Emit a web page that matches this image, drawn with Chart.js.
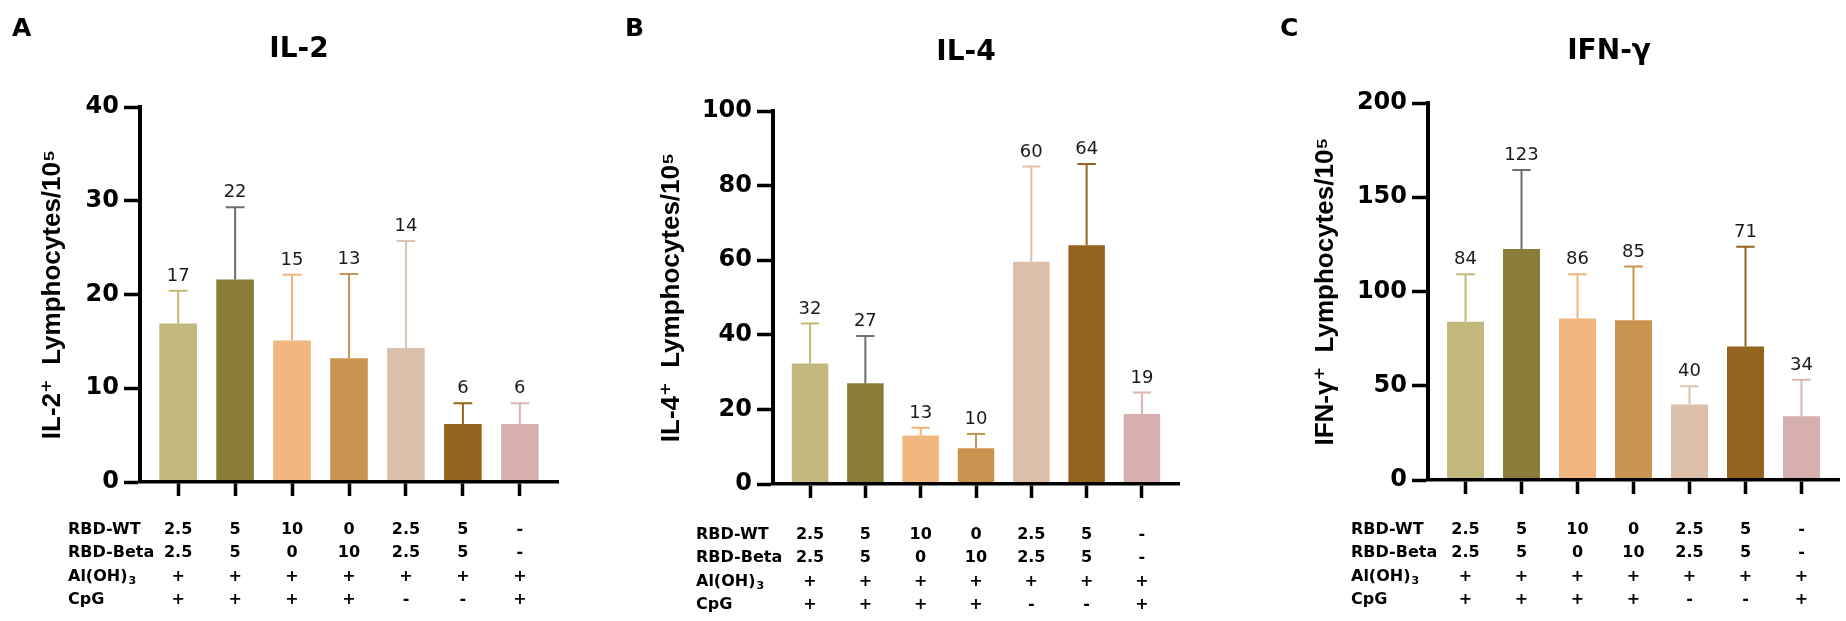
<!DOCTYPE html>
<html lang="en">
<head>
<meta charset="UTF-8">
<style>
    * { margin: 0; padding: 0; box-sizing: border-box; }
    body { width: 1846px; height: 621px; background: #fff; overflow: hidden; position: relative; }
    .panel { position: absolute; top: 0; height: 621px; }
</style>
</head>
<body>
<div class="panel" style="left:0px"><canvas id="chartA" width="600" height="621"></canvas></div>
<div class="panel" style="left:600px"><canvas id="chartB" width="620" height="621"></canvas></div>
<div class="panel" style="left:1240px"><canvas id="chartC" width="606" height="621"></canvas></div>

<script src="https://cdn.jsdelivr.net/npm/chart.js@4/dist/chart.umd.min.js"></script>
<script>
// table under each panel (one column per group)
const rbdWT   = ['2.5', '5', '10', '0', '2.5', '5', '-'];
const rbdBeta = ['2.5', '5', '0', '10', '2.5', '5', '-'];
const alum    = ['+', '+', '+', '+', '+', '+', '+'];
const cpg     = ['+', '+', '+', '+', '-', '-', '+'];
const rowNames = ['RBD-WT', 'RBD-Beta', 'Al(OH)3', 'CpG'];

// mean and SD per group
const il2Mean  = [16.9, 21.6, 15.1, 13.2, 14.3, 6.2, 6.2];
const il2Sd    = [3.5, 7.7, 7.0, 9.0, 11.4, 2.2, 2.2];
const il4Mean  = [32.3, 27.0, 13.0, 9.6, 59.6, 64.0, 18.8];
const il4Sd    = [10.7, 12.7, 2.1, 3.8, 25.5, 21.8, 5.7];
const ifngMean = [84.0, 122.6, 85.7, 84.8, 40.0, 70.8, 33.8];
const ifngSd   = [25.2, 41.9, 23.5, 28.4, 9.8, 52.9, 19.4];

// y tick labels
const il2Ticks  = [0, 10, 20, 30, 40];
const il4Ticks  = [0, 20, 40, 60, 80, 100];
const ifngTicks = [0, 50, 100, 150, 200];

const barColors = ['#c2b77d', '#8b7b38', '#f2b77e', '#c8944f', '#dbbfa9', '#93631f', '#d8afaf'];
const errColors = ['#c6b978', '#6e6e6e', '#f2b47a', '#c8944f', '#dfc3ad', '#93631f', '#dcb2b2'];

Chart.defaults.font.family = '"DejaVu Sans", sans-serif';
Chart.defaults.color = '#000';

// error bars, value labels, panel letter, title and the row names of the table
const panelDecor = {
    id: 'panelDecor',
    afterDatasetsDraw(chart, args, opts) {
        const ctx = chart.ctx;
        const y = chart.scales.y;
        const meta = chart.getDatasetMeta(0);
        ctx.save();
        meta.data.forEach((bar, i) => {
            const top = y.getPixelForValue(opts.mean[i] + opts.sd[i]);
            const half = bar.width / 4;
            ctx.strokeStyle = errColors[i];
            ctx.lineWidth = 2;
            ctx.beginPath();
            ctx.moveTo(bar.x, bar.y);
            ctx.lineTo(bar.x, top);
            ctx.moveTo(bar.x - half, top);
            ctx.lineTo(bar.x + half, top);
            ctx.stroke();
            ctx.fillStyle = '#1a1a1a';
            ctx.font = '18px "DejaVu Sans"';
            ctx.textAlign = 'center';
            ctx.textBaseline = 'alphabetic';
            ctx.fillText(String(Math.round(opts.mean[i])), bar.x, top - 10);
        });
        ctx.restore();
    },
    afterDraw(chart, args, opts) {
        const ctx = chart.ctx;
        const x = chart.scales.x;
        ctx.save();
        ctx.fillStyle = '#000';
        ctx.textBaseline = 'middle';

        ctx.font = 'bold 25px "DejaVu Sans"';
        ctx.textAlign = 'left';
        ctx.fillText(opts.letter, opts.letterX, 29);

        ctx.font = 'bold 28px "DejaVu Sans"';
        ctx.textAlign = 'center';
        ctx.fillText(opts.title, opts.titleX, opts.titleY);

        const lh = 16 * 1.45;
        const base = x.top + x.options.grid.tickLength + x.options.ticks.padding;
        const left = chart.chartArea.left - opts.rowOffset;
        ctx.textAlign = 'left';
        rowNames.forEach((name, i) => {
            const yy = base + lh * (i + 0.5);
            ctx.font = 'bold 16px "DejaVu Sans"';
            if (name === 'Al(OH)3') {
                ctx.fillText('Al(OH)', left, yy);
                const w = ctx.measureText('Al(OH)').width;
                ctx.font = 'bold 11px "DejaVu Sans"';
                ctx.fillText('3', left + w + 1, yy + 5);
            } else {
                ctx.fillText(name, left, yy);
            }
        });
        ctx.restore();
    }
};

function makePanel(id, p) {
    return new Chart(document.getElementById(id), {
        type: 'bar',
        data: {
            datasets: [{
                data: p.mean.map((v, i) => ({ x: i, y: v })),
                backgroundColor: barColors,
                borderWidth: 0,
                barPercentage: 0.66,
                categoryPercentage: 1
            }]
        },
        options: {
            responsive: false,
            animation: false,
            layout: { padding: { top: p.top, right: p.right, bottom: 0, left: 0 } },
            plugins: {
                legend: { display: false },
                tooltip: { enabled: false },
                panelDecor: {
                    mean: p.mean, sd: p.sd, letter: p.letter, letterX: p.letterX,
                    title: p.title, titleX: p.titleX, titleY: p.titleY, rowOffset: p.rowOffset
                }
            },
            scales: {
                x: {
                    type: 'linear',
                    min: -0.67,
                    max: 6.67,
                    offset: false,
                    afterBuildTicks: s => { s.ticks = rbdWT.map((_, i) => ({ value: i })); },
                    afterFit: s => { s.height = p.xHeight; },
                    grid: { offset: false, drawOnChartArea: false, tickLength: 14, tickWidth: 3.5, tickColor: '#000' },
                    border: { display: true, color: '#000', width: 3.5, z: 1 },
                    ticks: {
                        autoSkip: false,
                        maxRotation: 0,
                        padding: p.tablePad,
                        font: { size: 16, weight: 'bold', lineHeight: 1.45 },
                        callback: v => [rbdWT[v], rbdBeta[v], alum[v], cpg[v]]
                    }
                },
                y: {
                    min: 0,
                    max: p.ticks[p.ticks.length - 1],
                    afterBuildTicks: s => { s.ticks = p.ticks.map(v => ({ value: v })); },
                    afterFit: s => { s.width = p.yWidth; },
                    grid: { drawOnChartArea: false, tickLength: 16, tickWidth: 3.5, tickColor: '#000' },
                    border: { display: true, color: '#000', width: 4, z: 1 },
                    ticks: { padding: 5, font: { size: 24, weight: 'bold' } },
                    title: {
                        display: true,
                        text: p.yTitle,
                        color: '#000',
                        padding: { top: p.yTitlePad, bottom: 0 },
                        font: { family: '"Liberation Sans", "DejaVu Sans", sans-serif', size: 26, weight: 'bold', lineHeight: 1.2 }
                    }
                }
            }
        },
        plugins: [panelDecor]
    });
}

makePanel('chartA', {
    mean: il2Mean, sd: il2Sd, ticks: il2Ticks,
    letter: 'A', letterX: 12, title: 'IL-2', titleX: 299, titleY: 50,
    yTitle: 'IL-2\u207A  Lymphocytes/10\u2075', yTitlePad: 37.4,
    top: 107, right: 42, yWidth: 140, xHeight: 139, tablePad: 22.4, rowOffset: 72
});
makePanel('chartB', {
    mean: il4Mean, sd: il4Sd, ticks: il4Ticks,
    letter: 'B', letterX: 25, title: 'IL-4', titleX: 366, titleY: 53,
    yTitle: 'IL-4\u207A  Lymphocytes/10\u2075', yTitlePad: 56.4,
    top: 111, right: 41, yWidth: 173, xHeight: 137, tablePad: 25.4, rowOffset: 77
});
makePanel('chartC', {
    mean: ifngMean, sd: ifngSd, ticks: ifngTicks,
    letter: 'C', letterX: 40, title: 'IFN-\u03B3', titleX: 369, titleY: 52,
    yTitle: 'IFN-\u03B3\u207A  Lymphocytes/10\u2075', yTitlePad: 70.4,
    top: 103, right: 7, yWidth: 188, xHeight: 141, tablePad: 24.4, rowOffset: 77
});
</script>
</body>
</html>
